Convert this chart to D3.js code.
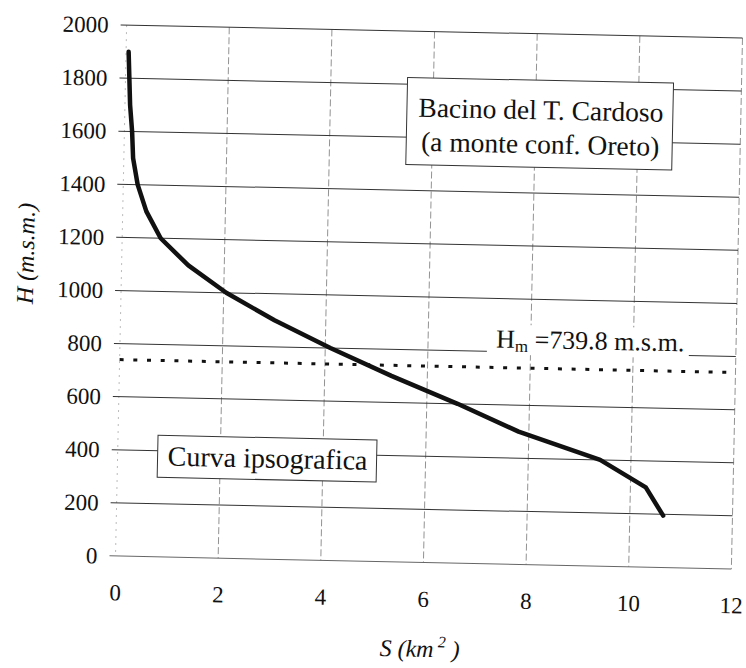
<!DOCTYPE html>
<html>
<head>
<meta charset="utf-8">
<script src="https://cdn.jsdelivr.net/npm/d3@7"></script>
<style>
  body { margin: 0; background: #fff; }
  svg { display: block; }
  text { font-family: "Liberation Serif", "Times New Roman", serif; fill: #111; }
</style>
</head>
<body>
<svg id="chart" width="746" height="668" font-family="Liberation Serif, serif"></svg>
<script>
// curva ipsografica: superficie cumulata S (km2) vs quota H (m s.m.)
const areaS = [0.05, 0.1, 0.15, 0.18, 0.28, 0.46, 0.75, 1.3, 2.05, 3.0, 4.1, 5.3, 6.6, 7.8, 9.4, 10.3, 10.65];
const elevH = [1900, 1700, 1600, 1500, 1400, 1300, 1200, 1100, 1000, 900, 800, 700, 600, 500, 400, 300, 195];
const xTicks = [0, 2, 4, 6, 8, 10, 12];
const yTicks = [0, 200, 400, 600, 800, 1000, 1200, 1400, 1600, 1800, 2000];
const meanH = 739.8;

const plotL = 121, plotR = 737, plotT = 31.5, plotB = 562.5;
const tilt = 1.2; // the scanned page is slightly rotated

const x = d3.scaleLinear().domain([0, 12]).range([plotL, plotR]);
const y = d3.scaleLinear().domain([0, 2000]).range([plotB, plotT]);

const svg = d3.select('#chart');
const g = svg.append('g')
  .attr('transform', `rotate(${tilt}, ${(plotL + plotR) / 2}, ${(plotT + plotB) / 2})`);

// vertical grid
g.append('g')
  .selectAll('line')
  .data(xTicks)
  .enter()
  .append('line')
  .attr('x1', d => x(d))
  .attr('x2', d => x(d))
  .attr('y1', plotT)
  .attr('y2', plotB)
  .attr('stroke', d => (d === 0 ? '#aaa' : '#777'))
  .attr('stroke-width', 0.8)
  .attr('stroke-dasharray', d => (d === 0 ? '2,5' : '7,3'));

// horizontal grid (with short tick on the left)
g.append('g')
  .selectAll('line')
  .data(yTicks)
  .enter()
  .append('line')
  .attr('x1', plotL - 6)
  .attr('x2', plotR)
  .attr('y1', d => y(d))
  .attr('y2', d => y(d))
  .attr('stroke', d => (d === 0 ? '#666' : '#333'))
  .attr('stroke-width', 1);

// axis labels
const yAxis = g.append('g')
  .attr('transform', `translate(${plotL},0)`)
  .call(d3.axisLeft(y).tickValues(yTicks).tickSize(0).tickPadding(18).tickFormat(d3.format('d')));
yAxis.select('.domain').remove();
yAxis.attr('font-family', null).attr('font-size', null);
yAxis.selectAll('text')
  .style('font-family', 'Liberation Serif, serif')
  .style('font-size', '23px')
  .attr('fill', '#111');

const xAxis = g.append('g')
  .attr('transform', `translate(0,${plotB})`)
  .call(d3.axisBottom(x).tickValues(xTicks).tickSize(0).tickPadding(28).tickFormat(d3.format('d')));
xAxis.select('.domain').remove();
xAxis.attr('font-family', null).attr('font-size', null);
xAxis.selectAll('text')
  .style('font-family', 'Liberation Serif, serif')
  .style('font-size', '23px')
  .attr('fill', '#111');

// mean elevation line
g.append('line')
  .attr('x1', x(0))
  .attr('x2', x(12))
  .attr('y1', y(meanH))
  .attr('y2', y(meanH))
  .attr('stroke', '#111')
  .attr('stroke-width', 3)
  .attr('stroke-dasharray', '4,9.7');

// label for mean elevation, white background hides the grid
const hmLabel = g.append('g');
hmLabel.append('rect')
  .attr('x', 488)
  .attr('y', 323)
  .attr('width', 202)
  .attr('height', 30)
  .attr('fill', '#fff');
const hmText = hmLabel.append('text')
  .attr('x', 497)
  .attr('y', 346)
  .style('font-size', '26px');
hmText.append('tspan').text('H');
hmText.append('tspan').attr('dy', 4).style('font-size', '17px').text('m');
hmText.append('tspan').attr('dy', -4).text(' =' + meanH.toFixed(1) + ' m.s.m.');

// the curve
const pts = areaS.map((s, i) => [s, elevH[i]]);
g.append('path')
  .datum(pts)
  .attr('fill', 'none')
  .attr('stroke', '#111')
  .attr('stroke-width', 4.5)
  .attr('stroke-linejoin', 'round')
  .attr('stroke-linecap', 'round')
  .attr('d', d3.line().x(d => x(d[0])).y(d => y(d[1])));

// text boxes
function box(bx, by, bw, bh, lines, cx, baselines, size) {
  g.append('rect')
    .attr('x', bx).attr('y', by)
    .attr('width', bw).attr('height', bh)
    .attr('fill', '#fff')
    .attr('stroke', '#333')
    .attr('stroke-width', 1);
  lines.forEach(function (t, i) {
    g.append('text')
      .attr('x', cx)
      .attr('y', baselines[i])
      .attr('text-anchor', 'middle')
      .style('font-size', size + 'px')
      .text(t);
  });
}
box(403, 78, 266, 87, ['Bacino del T. Cardoso', '(a monte conf. Oreto)'], 537, [117, 151], 27.5);
box(161, 441, 219, 42, ['Curva ipsografica'], 271, [471], 28);

// axis titles
g.append('text')
  .attr('transform', 'translate(33,262) rotate(-90)')
  .attr('text-anchor', 'middle')
  .style('font-size', '24px')
  .style('font-style', 'italic')
  .text('H (m.s.m.)');

const sTitle = g.append('text')
  .attr('x', 427)
  .attr('y', 657)
  .attr('text-anchor', 'middle')
  .style('font-size', '24px')
  .style('font-style', 'italic');
sTitle.append('tspan').text('S (km');
sTitle.append('tspan').attr('dy', -10).style('font-size', '16px').text(' 2');
sTitle.append('tspan').attr('dy', 10).text(' )');
</script>
</body>
</html>
